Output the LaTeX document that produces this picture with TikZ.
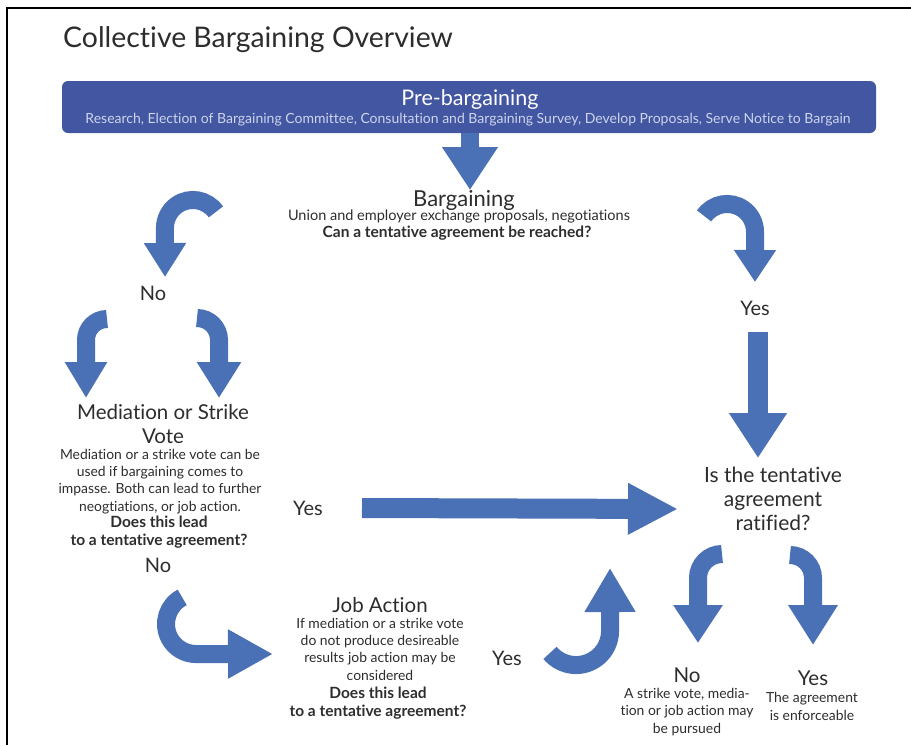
\documentclass[tikz,border=0pt]{standalone}
\usepackage{fontspec}
\setmainfont{Lato}[Ligatures=NoCommon]
\usetikzlibrary{arrows.meta}
\definecolor{arrowblue}{RGB}{74,112,182}
\definecolor{boxblue}{RGB}{66,86,162}
\definecolor{ink}{RGB}{45,45,45}
\definecolor{subink}{RGB}{205,212,235}
\newcommand{\fs}[2]{\fontsize{#1}{#2}\selectfont}
\tikzset{
  bend arrow/.style 2 args={draw=arrowblue, line width=18pt,
    -{Triangle[length=#1pt, width=#2pt]}},
  straight arrow/.style n args={3}{draw=arrowblue, line width=#1pt,
    -{Triangle[length=#2pt, width=#3pt]}},
  txt/.style={inner sep=0pt, text=ink, align=center},
  head/.style={txt, font=\fs{20.5}{23.5}},
  body/.style={txt, font=\fs{13.9}{17.3}},
  ask/.style={txt, font=\bfseries\fs{15.5}{17.5}},
  answer/.style={txt, font=\fs{20}{22}},
}
\begin{document}
\begin{tikzpicture}[x=1pt, y=-1pt]
\useasboundingbox (0,0) rectangle (911,745);
\fill[white] (0,0) rectangle (911,745);
% page frame
\draw[line width=2.5pt] (7,745) -- (7,8) -- (911,8);

% title and pre-bargaining banner
\node[txt, anchor=base west, font=\fs{28.4}{32}] (title) at (63,47) {Collective Bargaining Overview};
\node[fill=boxblue, rounded corners=6pt, minimum width=814pt, minimum height=52pt,
      inner sep=0pt] (pre) at (469,107) {};
\node[inner sep=0pt, anchor=base, text=white, font=\fs{21.5}{24}] (pretitle) at (470,105) {Pre-bargaining};
\node[inner sep=0pt, anchor=base, text=subink, font=\fs{14}{16}] (presub) at (468,123)
  {Research, Election of Bargaining Committee, Consultation and Bargaining Survey, Develop Proposals, Serve Notice to Bargain};

% bargaining
\node[head, anchor=base, font=\fs{22}{24}] (barg) at (464,206) {Bargaining};
\node[body, anchor=base, font=\fs{14.5}{17}] (bargsub) at (459,220) {Union and employer exchange proposals, negotiations};
\node[ask, anchor=base] (bargq) at (457,237) {Can a tentative agreement be reached?};

\node[answer, anchor=base] (no1) at (153,300) {No};
\node[answer, anchor=base] (yes1) at (755,315) {Yes};

% mediation or strike vote (base = last line)
\node[head, anchor=base] (med) at (163,443) {Mediation or Strike\\Vote};
\node[body, anchor=base] (medtxt) at (160,511) {Mediation or a strike vote can be\\used if bargaining comes to\\impasse. Both can lead to further\\neogtiations, or job action.};
\node[ask, anchor=base] (medq) at (159,545) {Does this lead\\to a tentative agreement?};
\node[answer, anchor=base] (no2) at (158,572) {No};
\node[answer, anchor=base] (yes2) at (308,515) {Yes};

% ratification
\node[head, anchor=base, font=\fs{21}{24}] (rat) at (773,530) {Is the tentative\\agreement\\ratified?};

% job action
\node[head, anchor=base] (job) at (380,612) {Job Action};
\node[body, anchor=base] (jobtxt) at (380,680) {If mediation or a strike vote\\do not produce desireable\\results job action may be\\considered};
\node[ask, anchor=base] (jobq) at (378,716) {Does this lead\\to a tentative agreement?};
\node[answer, anchor=base] (yes3) at (507,665) {Yes};

% outcomes
\node[head, anchor=base] (no4) at (687,682) {No};
\node[body, anchor=base] (no4txt) at (687,733) {A strike vote, media-\\tion or job action may\\be pursued};
\node[head, anchor=base] (yes4) at (813,685) {Yes};
\node[body, anchor=base] (yes4txt) at (812,720) {The agreement\\is enforceable};

% arrow end points
\coordinate (aE) at (470,190);
\coordinate (aAs) at (215.9,211.9);  \coordinate (aAe) at (165,277);
\coordinate (aBs) at (704.1,215.9);  \coordinate (aBe) at (755,282);
\coordinate (aCs) at (107,319);      \coordinate (aCe) at (86,398);
\coordinate (aDs) at (197,318);      \coordinate (aDe) at (219,398);
\coordinate (aFs) at (758,332);      \coordinate (aFe) at (758,458);
\coordinate (aGs) at (362,508);      \coordinate (aGe) at (678,509);
\coordinate (aHs) at (182.2,597.4);  \coordinate (aHe) at (273,654);
\coordinate (aIs) at (550,652.9);    \coordinate (aIe) at (610,568);
\coordinate (aJs) at (722,554);      \coordinate (aJe) at (698,643);
\coordinate (aKs) at (790,555);      \coordinate (aKe) at (813,645);

% arrows
\draw[straight arrow={18}{43}{53}] (pre.south -| aE) -- (aE);
\draw[bend arrow={34}{40}] (aAs) arc[start angle=-35, end angle=-180, radius=28] -- (aAe);
\draw[bend arrow={32}{40}] (aBs) arc[start angle=215, end angle=360, radius=28] -- (aBe);
\draw[bend arrow={36}{40}] (aCs) arc[start angle=-90, end angle=-180, radius=21] -- (aCe);
\draw[bend arrow={36}{42}] (aDs) arc[start angle=270, end angle=360, radius=22] -- (aDe);
\draw[straight arrow={20}{45}{55}] (aFs) -- (aFe);
\draw[straight arrow={20}{50}{48}] (aGs) -- (aGe);
\draw[bend arrow={45}{46}] (aHs) arc[start angle=242.6, end angle=90, radius=30] -- (aHe);
\draw[bend arrow={44}{48}] (aIs) arc[start angle=140, end angle=0, radius=34] -- (aIe);
\draw[bend arrow={38}{47}] (aJs) arc[start angle=-90, end angle=-180, radius=24] -- (aJe);
\draw[bend arrow={40}{47}] (aKs) arc[start angle=270, end angle=360, radius=23] -- (aKe);
\end{tikzpicture}
\end{document}
